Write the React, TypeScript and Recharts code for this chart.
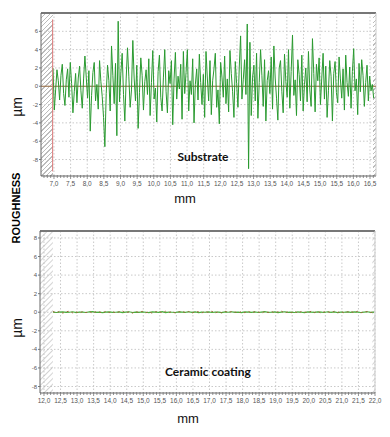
import React from 'react';
import {
  ComposedChart,
  Line,
  Area,
  XAxis,
  YAxis,
  CartesianGrid,
  ReferenceLine,
} from 'recharts';

// substrate profile, sampled every 0.04 mm from 6.97 mm (µm)
const SUBSTRATE_START = 6.97;
const SUBSTRATE_STEP = 0.04;
const substrateValues = [
  2.0, -2.6, -0.4, 1.8, 0.6, -1.5, 1.2, 2.4, -0.8, -2.1,
  0.7, 1.9, -1.2, 2.6, 0.3, -2.9, -0.6, 1.4, -1.8, 0.9,
  2.2, -0.5, -2.4, 0.8, 3.3, 1.0, -1.3, 1.7, -4.9, -1.0,
  1.5, 2.6, -1.6, 0.2, -2.5, 2.8, 0.5, -1.1, -3.4, -6.6,
  -0.8, 2.3, 0.6, -2.7, 4.4, 1.2, -1.9, 2.5, -5.4, 7.1,
  -1.7, 1.4, 3.6, -0.9, -3.8, 0.8, 4.2, 1.1, -2.3, -0.4,
  5.0, 0.9, -1.6, 2.3, -4.6, -0.7, 3.1, 1.2, -2.6, 0.5,
  1.8, -0.9, 3.0, -3.2, 0.4, 3.9, -1.4, -0.2, -3.9, 1.6,
  3.4, -1.2, -2.7, 1.0, 4.0, -0.6, -2.9, 1.7, 0.3, 2.8,
  -4.2, 0.8, 3.7, -1.4, 1.1, -0.3, 2.4, -3.6, 3.8, -0.8,
  1.5, 4.0, -2.7, 0.6, -0.9, 3.0, -4.0, 0.2, 1.9, -1.5,
  3.5, 0.4, -2.0, 1.3, -3.4, 3.8, 0.9, -1.6, 2.8, -3.1,
  0.6, 1.9, 3.6, -2.3, -0.4, -4.1, 2.6, 1.0, -1.2, 3.3,
  -1.9, 0.8, -2.8, 3.9, 1.4, -0.6, -3.4, 2.7, 0.3, -2.3,
  2.1, 5.5, -1.4, 0.7, 2.9, -0.9, 6.8, -9.0, 4.8, -3.2,
  1.0, 2.3, -1.6, 3.6, -3.5, 0.4, 4.0, 1.2, -2.2, 2.9,
  -3.8, 0.6, 1.7, -0.8, 3.2, -2.5, 4.4, 0.9, -1.3, -3.7,
  2.0, 2.8, -0.6, -2.9, 3.5, 0.5, -1.2, 4.0, -2.4, 1.6,
  5.6, -1.0, 0.7, -3.2, 2.9, 1.3, -1.6, 3.4, -2.7, 0.2,
  2.0, -1.7, 3.8, -0.4, -2.2, 5.2, 1.4, -2.8, 2.4, 0.6,
  3.1, -2.0, 0.9, 3.6, -1.4, 2.2, -3.4, -0.5, 2.8, 1.1,
  -3.8, 1.4, 2.7, -0.7, -1.8, 3.2, 0.8, -1.3, 1.9, -2.6,
  3.4, 0.4, -1.1, 2.1, -2.4, 1.6, 4.1, -0.5, 0.8, -3.1,
  2.5, -0.6, 2.9, 1.2, -2.2, 0.4, 2.3, -1.6, 1.1, -0.5,
  0.2, -1.3,
];

// ceramic coating profile, sampled every 0.1 mm from 12.27 mm (µm)
const COATING_START = 12.27;
const COATING_STEP = 0.1;
const coatingValues = [
  0.02, -0.03, 0.01, 0.04, -0.02, 0.0, 0.05, -0.04, 0.02, 0.01,
  -0.03, 0.03, 0.06, -0.02, 0.01, -0.05, 0.02, 0.04, -0.01, 0.0,
  0.03, -0.04, 0.02, 0.05, -0.03, 0.01, -0.02, 0.04, 0.0, -0.05,
  0.03, 0.01, -0.02, 0.06, -0.04, 0.02, 0.0, -0.03, 0.04, 0.01,
  -0.02, 0.05, -0.01, 0.03, -0.04, 0.02, 0.0, 0.04, -0.03, 0.01,
  0.02, -0.05, 0.03, 0.0, 0.05, -0.02, 0.01, -0.04, 0.03, 0.02,
  -0.01, 0.04, -0.03, 0.02, 0.06, -0.02, 0.0, 0.03, -0.04, 0.01,
  0.05, -0.02, 0.02, -0.03, 0.04, 0.0, -0.05, 0.03, 0.01, -0.02,
  0.04, 0.02, -0.03, 0.05, -0.01, 0.03, -0.04, 0.02, 0.0, 0.03,
  -0.02, 0.04, 0.01, -0.03, 0.02, 0.05, -0.01, 0.02,
];
const coatingResidue = [
  0.08, -0.06, 0.1, -0.09, 0.05, 0.11, -0.07, 0.04, -0.1, 0.08,
  -0.05, 0.09, -0.11, 0.06, 0.03, -0.08, 0.1, -0.04, 0.07, -0.09,
  0.05, 0.12, -0.06, 0.04, -0.1, 0.08, -0.03, 0.09, -0.07, 0.06,
  -0.11, 0.05, 0.08, -0.06, 0.1, -0.04, 0.07, -0.09, 0.03, 0.11,
  -0.05, 0.08, -0.1, 0.06, 0.04, -0.07, 0.09, -0.03, 0.1, -0.08,
  0.05, -0.06, 0.11, -0.04, 0.07, 0.03, -0.09, 0.08, -0.05, 0.1,
  -0.07, 0.06, 0.04, -0.11, 0.09, -0.03, 0.08, -0.06, 0.05, 0.12,
  -0.08, 0.04, -0.05, 0.09, -0.1, 0.07, 0.03, -0.06, 0.11, -0.04,
  0.08, -0.09, 0.05, 0.06, -0.07, 0.1, -0.03, 0.09, -0.08, 0.04,
  0.07, -0.05, 0.1, -0.06, 0.03, 0.08, -0.04, 0.06,
];

const topXLabels = [7.0, 7.5, 8.0, 8.5, 9.0, 9.5, 10.0, 10.5, 11.0, 11.5, 12.0, 12.5, 13.0, 13.5, 14.0, 14.5, 15.0, 15.5, 16.0, 16.5];
const bottomXLabels = [12.0, 12.5, 13.0, 13.5, 14.0, 14.5, 15.0, 15.5, 16.0, 16.5, 17.0, 17.5, 18.0, 18.5, 19.0, 19.5, 20.0, 20.5, 21.0, 21.5, 22.0];
const topYTicks = [-8, -6, -4, -2, 0, 2, 4, 6];
const bottomYTicks = [-8, -6, -4, -2, 0, 2, 4, 6, 8];

// axis ranges and the excluded (hatched) zones at each end of the scan
const TOP_X = [6.61, 16.68];
const TOP_Y = [-9.8, 8];
const TOP_CUT = [6.96, 16.6];
const BOTTOM_X = [11.88, 22.0];
const BOTTOM_Y = [-8.7, 8.75];
const BOTTOM_CUT = [12.27, 21.92];

// start cursor (red marker) of the substrate scan
const cursorData = [
  { x: TOP_CUT[0], c: 7.3 },
  { x: TOP_CUT[0], c: -9.3 },
];

const substrateData = substrateValues.map((v, i) => ({
  x: +(SUBSTRATE_START + i * SUBSTRATE_STEP).toFixed(3),
  v,
}));
const coatingData = coatingValues.map((v, i) => ({
  x: +(COATING_START + i * COATING_STEP).toFixed(3),
  v,
  r: coatingResidue[i],
}));

const zone = (a: number, b: number, top: number) => [
  { x: a, h: top },
  { x: b, h: top },
];

// minor ticks every 0.1 mm
const minorTicks = (from: number, to: number) =>
  Array.from({ length: Math.round((to - from) * 10) + 1 }, (_, i) => +(from + i * 0.1).toFixed(1));

const MmTick = ({ x, y, payload }: any) => {
  const v = payload.value;
  const major = Math.abs(v * 2 - Math.round(v * 2)) < 1e-6;
  return (
    <g>
      <line x1={x} x2={x} y1={y - 1} y2={y + (major ? 3 : 2)} stroke="#777" strokeWidth={0.8} />
      {major && (
        <text x={x} y={y + 10} textAnchor="middle" fontSize={6.5} fill="#555" fontFamily="Arial, Liberation Sans">
          {v.toFixed(1).replace('.', ',')}
        </text>
      )}
    </g>
  );
};

const label = (left: number, top: number, rotate = false): React.CSSProperties => ({
  position: 'absolute',
  left,
  top,
  transform: `translate(-50%, -50%)${rotate ? ' rotate(-90deg)' : ''}`,
  whiteSpace: 'nowrap',
  color: '#111',
  lineHeight: 1,
  pointerEvents: 'none',
});

// top-panel end zones drawn as a css hatch behind the chart
const cssHatch = (left: number, top: number, width: number, height: number): React.CSSProperties => ({
  position: 'absolute',
  left,
  top,
  width,
  height,
  background: 'repeating-linear-gradient(135deg, #bcbcbc 0 1px, transparent 1px 3.2px)',
});

const yTickStyle = { fontSize: 6, fill: '#555', fontFamily: 'Arial, Liberation Sans' };

const hatchArea = (data: any[], base: number, key: string) => (
  <Area
    key={key}
    data={data}
    dataKey="h"
    type="linear"
    baseValue={base}
    fill="url(#hatch)"
    fillOpacity={1}
    stroke="none"
    dot={false}
    activeDot={false}
    isAnimationActive={false}
  />
);

export default function App() {
  return (
    <div style={{ position: 'absolute', left: 0, top: 0, width: 390, height: 437, background: '#fff', overflow: 'hidden' }}>
      <svg width={0} height={0} style={{ position: 'absolute' }}>
        <defs>
          <pattern id="hatch" patternUnits="userSpaceOnUse" width="4" height="4" patternTransform="rotate(45)">
            <line x1="0" y1="0" x2="0" y2="4" stroke="#b5b5b5" strokeWidth="1.2" />
          </pattern>
        </defs>
      </svg>

      <div style={cssHatch(41, 13, 12, 163)} />
      <div style={cssHatch(373, 13, 3, 163)} />

      <div style={{ position: 'absolute', left: 0, top: 0 }}>
        <ComposedChart width={390} height={200} data={substrateData} margin={{ top: 13, right: 14, left: 25, bottom: 10 }}>
          <CartesianGrid
            stroke="#c9c9c9"
            strokeDasharray="1.5 2"
            verticalValues={topXLabels}
            horizontalValues={topYTicks}
          />
          <XAxis
            dataKey="x"
            type="number"
            domain={TOP_X}
            allowDataOverflow
            ticks={minorTicks(6.7, 16.6)}
            interval={0}
            tick={<MmTick />}
            tickLine={false}
            tickSize={0}
            tickMargin={0}
            height={14}
            axisLine={{ stroke: '#666' }}
          />
          <YAxis
            type="number"
            domain={TOP_Y}
            allowDataOverflow
            ticks={topYTicks}
            interval={0}
            width={16}
            tickSize={2}
            tickMargin={1}
            tick={yTickStyle}
            tickLine={{ stroke: '#777' }}
            axisLine={{ stroke: '#666' }}
          />
          <ReferenceLine y={TOP_Y[1]} stroke="#777" strokeWidth={2} />
          <ReferenceLine x={TOP_X[1]} stroke="#ccc" />
          <ReferenceLine y={0} stroke="#96683c" strokeWidth={1.2} />
          <Line
            dataKey="v"
            type="linear"
            stroke="#2a9a30"
            strokeWidth={1}
            dot={false}
            activeDot={false}
            isAnimationActive={false}
          />
          <Line
            data={cursorData}
            dataKey="c"
            type="linear"
            stroke="#dd7a7a"
            strokeWidth={1}
            dot={false}
            activeDot={false}
            isAnimationActive={false}
          />
        </ComposedChart>
      </div>

      <div style={{ position: 'absolute', left: 0, top: 210 }}>
        <ComposedChart width={390} height={200} data={coatingData} margin={{ top: 21, right: 15, left: 24, bottom: 3 }}>
          <CartesianGrid
            stroke="#c9c9c9"
            strokeDasharray="1.5 2"
            verticalValues={bottomXLabels}
            horizontalValues={bottomYTicks}
          />
          <XAxis
            dataKey="x"
            type="number"
            domain={BOTTOM_X}
            allowDataOverflow
            ticks={minorTicks(11.9, 22.0)}
            interval={0}
            tick={<MmTick />}
            tickLine={false}
            tickSize={0}
            tickMargin={0}
            height={14}
            axisLine={{ stroke: '#666' }}
          />
          <YAxis
            type="number"
            domain={BOTTOM_Y}
            allowDataOverflow
            ticks={bottomYTicks}
            interval={0}
            width={16}
            tickSize={2}
            tickMargin={1}
            tick={yTickStyle}
            tickLine={{ stroke: '#777' }}
            axisLine={{ stroke: '#666' }}
          />
          {hatchArea(zone(BOTTOM_X[0], BOTTOM_CUT[0], BOTTOM_Y[1]), BOTTOM_Y[0], 'bl')}
          {hatchArea(zone(BOTTOM_CUT[1], BOTTOM_X[1], BOTTOM_Y[1]), BOTTOM_Y[0], 'br')}
          <ReferenceLine y={BOTTOM_Y[1]} stroke="#777" strokeWidth={2} />
          <ReferenceLine x={BOTTOM_X[1]} stroke="#ccc" />
          <Line
            dataKey="v"
            type="linear"
            stroke="#4caf3c"
            strokeWidth={1.2}
            dot={false}
            activeDot={false}
            isAnimationActive={false}
          />
          <Line
            dataKey="r"
            type="linear"
            stroke="#9a6a3a"
            strokeWidth={1}
            strokeDasharray="2 3"
            dot={false}
            activeDot={false}
            isAnimationActive={false}
          />
        </ComposedChart>
      </div>

      <div style={{ ...label(17, 107, true), fontSize: 14, fontFamily: 'Arial, Liberation Sans' }}>µm</div>
      <div style={{ ...label(185, 198), fontSize: 13, fontFamily: 'Arial, Liberation Sans' }}>mm</div>
      <div style={{ ...label(203, 157), fontSize: 12, fontWeight: 700, fontFamily: 'Lato, Open Sans' }}>Substrate</div>
      <div style={{ ...label(16, 208, true), fontSize: 11, fontWeight: 700, fontFamily: 'Arial, Liberation Sans', color: '#000' }}>
        ROUGHNESS
      </div>
      <div style={{ ...label(17, 328, true), fontSize: 14, fontFamily: 'Arial, Liberation Sans' }}>µm</div>
      <div style={{ ...label(188, 418), fontSize: 13, fontFamily: 'Arial, Liberation Sans' }}>mm</div>
      <div style={{ ...label(208, 372), fontSize: 12, fontWeight: 700, fontFamily: 'Lato, Open Sans' }}>Ceramic coating</div>
    </div>
  );
}
